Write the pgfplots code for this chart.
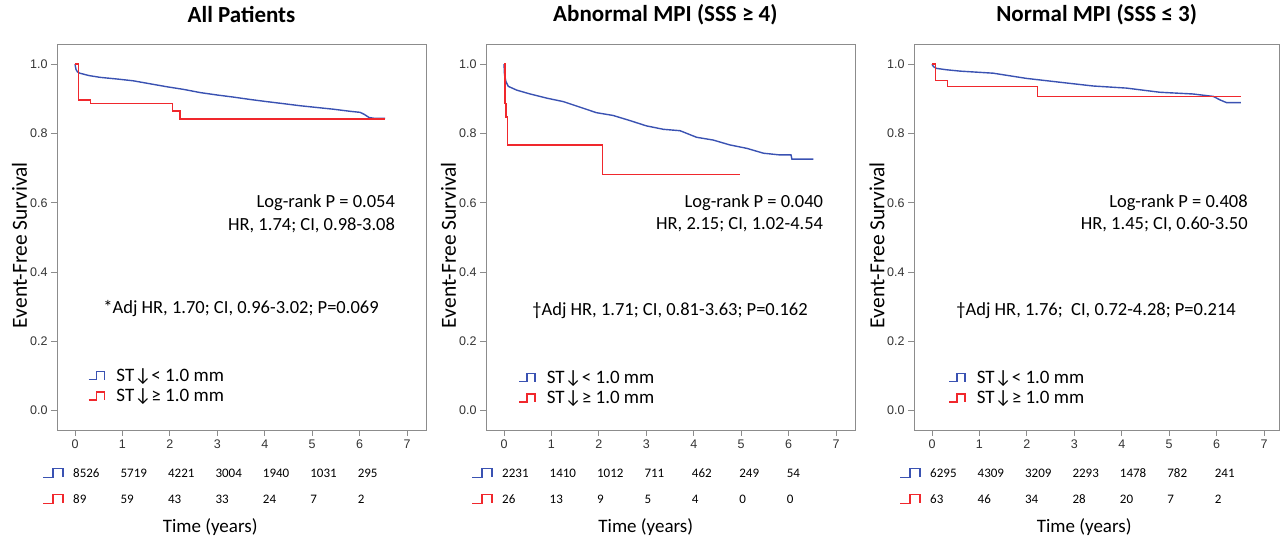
\documentclass[border=0pt]{standalone}
\usepackage{fontspec}
\setmainfont{Carlito}
\newfontfamily\arialf{Liberation Sans}
\usepackage{pgfplots}
\pgfplotsset{compat=1.18}
\definecolor{kmblue}{RGB}{58,82,178}
\definecolor{kmred}{RGB}{240,40,45}
\definecolor{boxgray}{RGB}{140,140,140}

\pgfplotsset{
  kmpanel/.style={
    x=47.43pt, y=346.4pt,
    xmin=-0.38, xmax=7.4, ymin=-0.056, ymax=1.056,
    anchor=south west, clip=false, no marks,
    axis line style={boxgray, line width=0.8pt},
    xtick={0,...,7}, ytick={0,0.2,0.4,0.6,0.8,1.0},
    tick pos=left, tick align=outside, major tick length=6pt,
    tick style={boxgray, line width=0.8pt},
    /pgf/number format/assume math mode=true,
    ticklabel style={font=\arialf\fontsize{12.5}{14}\selectfont, text=black!80},
    yticklabel style={/pgf/number format/.cd, fixed, fixed zerofill, precision=1},
    title style={font=\bfseries\fontsize{23}{27}\selectfont, at={(rel axis cs:0.5,1)}, anchor=center, yshift=24pt},
    ylabel={Event-Free Survival},
    ylabel style={font=\fontsize{21.5}{24}\selectfont, at={(rel axis cs:-0.1016,0.48)}, anchor=center},
    xlabel={Time (years)},
    xlabel style={font=\fontsize{19}{22}\selectfont, anchor=center},
    legend image code/.code={\draw[#1] (0pt,-4pt) -- (8pt,-4pt) -- (8pt,4pt) -- (16pt,4pt) -- (16pt,-4pt);},
    legend cell align=left,
    legend style={draw=none, fill=none, inner sep=0pt, row sep=2pt, anchor=north west,
      font=\fontsize{19}{21}\selectfont,
      /tikz/every odd column/.append style={column sep=9pt}},
  },
  blueline/.style={kmblue, line width=1.4pt, sharp plot},
  redline/.style={kmred, line width=1.4pt, const plot mark left},
}
\tikzset{
  rk/.style={anchor=west, xshift=-2pt, inner sep=0pt, font=\fontsize{13}{15}\selectfont},
  note/.style={inner sep=0pt, font=\fontsize{18.5}{21}\selectfont},
}
% numbers at risk: row y, then the counts at t = 0..6
\newcommand\riskrow[8]{%
  \node[rk] at (axis cs:0,#1) {#2}; \node[rk] at (axis cs:1,#1) {#3};
  \node[rk] at (axis cs:2,#1) {#4}; \node[rk] at (axis cs:3,#1) {#5};
  \node[rk] at (axis cs:4,#1) {#6}; \node[rk] at (axis cs:5,#1) {#7};
  \node[rk] at (axis cs:6,#1) {#8};}
\newcommand\riskicons{%
  \draw[kmblue, line width=1.4pt] (axis cs:-0.675,-0.193) -- (axis cs:-0.464,-0.193) -- (axis cs:-0.464,-0.167) -- (axis cs:-0.253,-0.167) -- (axis cs:-0.253,-0.193);
  \draw[kmred, line width=1.4pt] (axis cs:-0.675,-0.268) -- (axis cs:-0.464,-0.268) -- (axis cs:-0.464,-0.242) -- (axis cs:-0.253,-0.242) -- (axis cs:-0.253,-0.268);}

\begin{document}
\begin{tikzpicture}
\useasboundingbox (0pt,0pt) rectangle (1280pt,537pt);

% ---- All patients
\begin{axis}[kmpanel, at={(57pt,107pt)}, title={All Patients},
  xlabel style={at={(rel axis cs:0.415,-0.2516)}},
  legend style={at={(axis cs:0.27,0.128)}}]
\addplot[blueline] coordinates {
  (0,1.0) (0.02,0.985) (0.05,0.978) (0.1,0.974) (0.3,0.967) (0.53,0.962)
  (0.9,0.957) (1.23,0.952) (1.6,0.943) (1.93,0.935) (2.3,0.927) (2.64,0.918)
  (3.0,0.911) (3.34,0.905) (3.7,0.898) (4.04,0.892) (4.4,0.886) (4.75,0.880)
  (5.1,0.875) (5.45,0.870) (5.8,0.864) (6.01,0.861) (6.1,0.855) (6.2,0.846)
  (6.3,0.844) (6.54,0.844)};
\addlegendentry{ST↓< 1.0 mm}
\addplot[redline] coordinates {
  (0,1.0) (0.07,0.897) (0.32,0.886) (2.06,0.865) (2.21,0.842) (6.54,0.842)};
\addlegendentry{ST↓≥ 1.0 mm}
\node[note, anchor=east] at (axis cs:6.75,0.600) {Log-rank P = 0.054};
\node[note, anchor=east] at (axis cs:6.75,0.536) {HR, 1.74; CI, 0.98-3.08};
\node[note] at (axis cs:3.5,0.296) {*Adj HR, 1.70; CI, 0.96-3.02; P=0.069};
\riskicons
\riskrow{-0.180}{8526}{5719}{4221}{3004}{1940}{1031}{295}
\riskrow{-0.255}{89}{59}{43}{33}{24}{7}{2}
\end{axis}

% ---- Abnormal MPI
\begin{axis}[kmpanel, at={(486pt,107pt)}, title={Abnormal MPI (SSS ≥ 4)},
  title style={at={(rel axis cs:0.486,1)}},
  xlabel style={at={(rel axis cs:0.433,-0.2516)}},
  legend style={at={(axis cs:0.30,0.122)}}]
\addplot[blueline] coordinates {
  (0,1.0) (0.01,0.97) (0.04,0.95) (0.09,0.936) (0.27,0.925) (0.55,0.914)
  (0.9,0.902) (1.25,0.892) (1.6,0.876) (1.95,0.860) (2.3,0.852) (2.66,0.837)
  (3.0,0.822) (3.36,0.812) (3.71,0.808) (4.06,0.789) (4.41,0.781) (4.76,0.767)
  (5.12,0.757) (5.47,0.743) (5.82,0.738) (6.05,0.738) (6.07,0.726) (6.52,0.726)};
\addlegendentry{ST↓< 1.0 mm}
\addplot[redline] coordinates {
  (0,1.0) (0.02,0.887) (0.04,0.848) (0.07,0.767) (2.08,0.682) (4.98,0.682)};
\addlegendentry{ST↓≥ 1.0 mm}
\node[note, anchor=east] at (axis cs:6.73,0.600) {Log-rank P = 0.040};
\node[note, anchor=east] at (axis cs:6.73,0.536) {HR, 2.15; CI, 1.02-4.54};
\node[note] at (axis cs:3.5,0.288) {†Adj HR, 1.71; CI, 0.81-3.63; P=0.162};
\riskicons
\riskrow{-0.180}{2231}{1410}{1012}{711}{462}{249}{54}
\riskrow{-0.255}{26}{13}{9}{5}{4}{0}{0}
\end{axis}

% ---- Normal MPI
\begin{axis}[kmpanel, at={(914pt,107pt)}, xmax=7.32, title={Normal MPI (SSS ≤ 3)},
  xlabel style={at={(rel axis cs:0.466,-0.2516)}},
  legend style={at={(axis cs:0.34,0.122)}}]
\addplot[blueline] coordinates {
  (0,1.0) (0.03,0.993) (0.09,0.988) (0.3,0.984) (0.59,0.980) (1.29,0.974)
  (1.99,0.959) (2.69,0.948) (3.40,0.937) (4.1,0.931) (4.8,0.919) (5.5,0.914)
  (5.93,0.907) (6.07,0.897) (6.21,0.889) (6.51,0.889)};
\addlegendentry{ST↓< 1.0 mm}
\addplot[redline] coordinates {
  (0,1.0) (0.07,0.953) (0.32,0.936) (2.22,0.907) (6.51,0.907)};
\addlegendentry{ST↓≥ 1.0 mm}
\node[note, anchor=east] at (axis cs:6.66,0.600) {Log-rank P = 0.408};
\node[note, anchor=east] at (axis cs:6.66,0.536) {HR, 1.45; CI, 0.60-3.50};
\node[note] at (axis cs:3.46,0.288) {†Adj HR, 1.76;\ \ CI, 0.72-4.28; P=0.214};
\riskicons
\riskrow{-0.180}{6295}{4309}{3209}{2293}{1478}{782}{241}
\riskrow{-0.255}{63}{46}{34}{28}{20}{7}{2}
\end{axis}
\end{tikzpicture}
\end{document}
